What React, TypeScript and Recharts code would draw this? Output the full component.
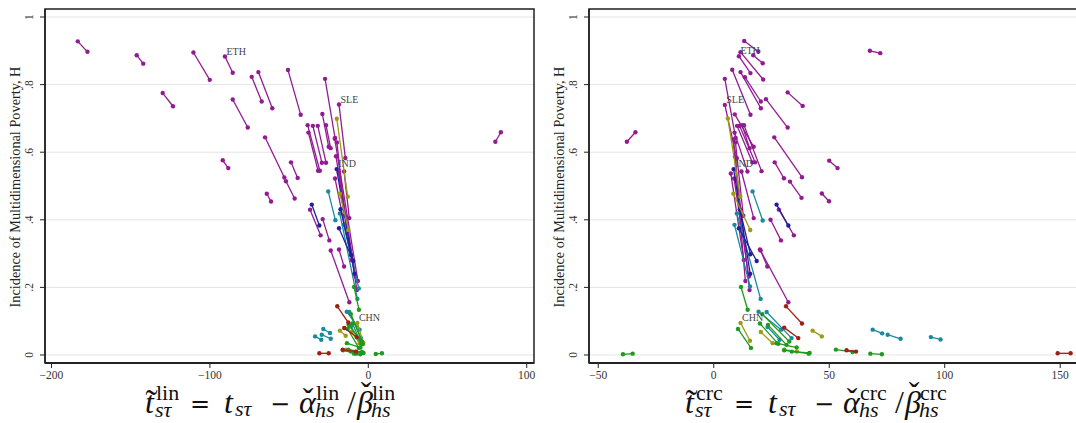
import React from "react";
import {
  CartesianGrid,
  ReferenceArea,
  Scatter,
  ScatterChart,
  XAxis,
  YAxis,
} from "recharts";

// each segment: [x1, y1, x2, y2] (first survey -> second survey)
type Seg = [number, number, number, number];
type Lbl = { x: number; y: number; name: string };

const purpleLin: Seg[] = [
  [-183.4, 0.928, -177.3, 0.897], [-146.2, 0.887, -142.1, 0.862], [-110.4, 0.895, -100.1, 0.814],
  [-90.5, 0.883, -85.6, 0.835], [-129.8, 0.775, -123.3, 0.736], [-73.6, 0.823, -67.3, 0.75],
  [-69.4, 0.837, -60.6, 0.73], [-50.7, 0.843, -42.7, 0.711], [-85.6, 0.756, -76.1, 0.673],
  [-91.9, 0.576, -88.4, 0.553], [-65.2, 0.644, -53.0, 0.525], [-48.8, 0.57, -44.6, 0.524],
  [-52.0, 0.514, -46.5, 0.463], [-64.1, 0.477, -61.4, 0.454], [80.2, 0.631, 83.7, 0.659],
  [-27.3, 0.817, -21.0, 0.642], [-18.5, 0.741, -14.5, 0.583], [-37.8, 0.658, -31.7, 0.545],
  [-38.3, 0.68, -30.6, 0.545], [-35.0, 0.678, -29.3, 0.569], [-31.9, 0.678, -26.7, 0.569],
  [-29.0, 0.713, -25.0, 0.616], [-26.7, 0.68, -23.8, 0.612], [-36.8, 0.43, -30.1, 0.354],
  [-28.8, 0.402, -24.6, 0.339], [-23.7, 0.309, -12.0, 0.156], [-18.5, 0.312, -15.3, 0.262],
  [-21.2, 0.64, -6.6, 0.219], [-19.8, 0.629, -14.8, 0.412], [-20.4, 0.588, -7.2, 0.192],
  [-21.0, 0.522, -10.5, 0.281], [-18.6, 0.539, -8.0, 0.232], [-15.3, 0.543, -12.0, 0.405],
];
const purpleCrc: Seg[] = [
  [13.2, 0.929, 19.3, 0.898], [17.1, 0.887, 21.2, 0.863], [11.6, 0.896, 21.4, 0.815],
  [10.9, 0.884, 15.9, 0.834], [32.0, 0.777, 38.5, 0.737], [13.5, 0.822, 20.4, 0.75],
  [11.6, 0.837, 20.4, 0.73], [8.0, 0.844, 15.9, 0.711], [22.6, 0.757, 32.0, 0.673],
  [50.0, 0.575, 53.6, 0.553], [26.2, 0.644, 38.2, 0.526], [26.4, 0.57, 30.4, 0.523],
  [33.0, 0.513, 38.0, 0.465], [46.8, 0.478, 49.9, 0.455], [-37.6, 0.631, -33.9, 0.659],
  [4.8, 0.817, 9.5, 0.642], [4.8, 0.74, 10.0, 0.582], [9.0, 0.658, 14.6, 0.543],
  [13.1, 0.68, 20.7, 0.544], [10.1, 0.678, 16.7, 0.57], [11.2, 0.678, 17.9, 0.57],
  [9.1, 0.712, 17.3, 0.616], [12.3, 0.68, 15.5, 0.612], [28.2, 0.43, 34.7, 0.354],
  [24.6, 0.4, 29.1, 0.339], [20.0, 0.312, 32.3, 0.156], [20.3, 0.309, 23.2, 0.262],
  [8.4, 0.638, 13.7, 0.219], [9.4, 0.629, 12.8, 0.412], [9.2, 0.587, 15.5, 0.192],
  [7.4, 0.537, 13.0, 0.281], [8.8, 0.522, 15.2, 0.232], [12.0, 0.543, 17.3, 0.405],
  [67.6, 0.9, 72.1, 0.893],
];

const blueLin: Seg[] = [
  [-35.7, 0.445, -30.9, 0.383], [-20.0, 0.55, -8.7, 0.24], [-17.5, 0.431, -10.9, 0.296], [-18.5, 0.375, -9.5, 0.278],
];
const blueCrc: Seg[] = [
  [27.2, 0.445, 32.3, 0.383], [8.6, 0.55, 15.8, 0.24], [11.3, 0.431, 15.9, 0.298], [10.9, 0.375, 18.6, 0.278],
];

const tealLin: Seg[] = [
  [-25.3, 0.484, -20.8, 0.399], [-18.0, 0.419, -6.9, 0.166], [-15.5, 0.385, -6.0, 0.197],
  [-28.4, 0.077, -24.2, 0.065], [-29.4, 0.06, -23.7, 0.048], [-33.6, 0.055, -29.7, 0.045],
  [-13.6, 0.128, -5.5, 0.075], [-12.0, 0.127, -4.6, 0.05], [-11.0, 0.085, -5.8, 0.045],
];
const tealCrc: Seg[] = [
  [16.8, 0.484, 21.2, 0.398], [10.0, 0.419, 20.3, 0.166], [9.0, 0.385, 15.7, 0.203],
  [68.8, 0.075, 72.9, 0.064], [75.3, 0.06, 80.9, 0.048], [94.0, 0.053, 98.2, 0.046],
  [19.4, 0.128, 29.2, 0.075], [22.9, 0.127, 33.7, 0.05], [23.3, 0.083, 28.5, 0.045],
];

const oliveLin: Seg[] = [
  [-19.9, 0.699, -13.0, 0.468], [-17.9, 0.477, -12.5, 0.37], [-17.9, 0.072, -14.3, 0.057],
  [-6.9, 0.095, -3.2, 0.036], [-10.5, 0.068, -5.5, 0.035], [-14.0, 0.016, -8.0, 0.01],
];
const oliveCrc: Seg[] = [
  [6.1, 0.7, 11.5, 0.468], [8.5, 0.477, 15.8, 0.37], [42.8, 0.072, 46.8, 0.055],
  [11.6, 0.095, 15.7, 0.042], [20.4, 0.068, 25.5, 0.035], [30.5, 0.016, 36.0, 0.01],
];

const greenLin: Seg[] = [
  [-9.0, 0.201, -5.9, 0.134], [-12.4, 0.089, -3.5, 0.032], [-11.0, 0.121, -4.0, 0.04],
  [-13.0, 0.077, -6.0, 0.021], [-10.0, 0.093, -4.5, 0.033], [-13.5, 0.035, -5.0, 0.022],
  [-16.0, 0.014, -7.5, 0.004], [-12.5, 0.016, -4.0, 0.009], [-9.0, 0.004, -5.0, 0.002],
  [4.7, 0.003, 8.6, 0.005], [-11.0, 0.01, -3.0, 0.006],
];
const greenCrc: Seg[] = [
  [11.8, 0.201, 14.7, 0.134], [23.5, 0.089, 31.5, 0.03], [21.0, 0.121, 32.7, 0.04],
  [10.5, 0.077, 16.1, 0.021], [20.0, 0.093, 27.9, 0.033], [27.2, 0.035, 35.9, 0.022],
  [30.5, 0.014, 41.1, 0.004], [52.9, 0.016, 60.1, 0.009], [67.8, 0.004, 72.8, 0.002],
  [-39.3, 0.002, -35.1, 0.004], [33.8, 0.01, 41.5, 0.006],
];

const redLin: Seg[] = [
  [-19.6, 0.144, -12.6, 0.096], [-15.2, 0.08, -7.3, 0.053], [-30.9, 0.005, -25.0, 0.005], [-16.2, 0.016, -7.8, 0.01],
];
const redCrc: Seg[] = [
  [31.3, 0.144, 38.2, 0.093], [30.5, 0.081, 36.6, 0.05], [148.9, 0.005, 154.5, 0.005], [57.5, 0.014, 61.6, 0.01],
];

const linLabels: Lbl[] = [
  { x: -90.5, y: 0.883, name: "ETH" },
  { x: -18.5, y: 0.741, name: "SLE" },
  { x: -20.0, y: 0.55, name: "IND" },
  { x: -6.9, y: 0.095, name: "CHN" },
];
const crcLabels: Lbl[] = [
  { x: 10.9, y: 0.884, name: "ETH" },
  { x: 4.8, y: 0.74, name: "SLE" },
  { x: 8.6, y: 0.55, name: "IND" },
  { x: 11.6, y: 0.095, name: "CHN" },
];

const linTicks = [-200, -100, 0, 100];
const crcTicks = [-50, 0, 50, 100, 150];
const hTicks = [0, 0.2, 0.4, 0.6, 0.8, 1];

const COLORS = {
  purple: "#921b92",
  blue: "#221f9c",
  teal: "#188a9e",
  olive: "#9c9b14",
  green: "#1e9a1e",
  red: "#9c2016",
};

const SERIF = '"Liberation Serif", "Times New Roman", serif';
const Y_DOMAIN: [number, number] = [-0.0237, 1.0237];

const fmtH = (v: number) => (v === 0 ? "0" : v === 1 ? "1" : String(v).replace(/^0/, ""));
const fmtX = (v: number) => (v < 0 ? "\u2212" + Math.abs(v) : String(v));

const YTick = (props: any) => {
  const { x, y, payload } = props;
  const bx = x - 7;
  return (
    <text x={bx} y={y} transform={`rotate(-90 ${bx} ${y})`} textAnchor="middle" fontSize={11.5} fill="#333" fontFamily={SERIF}>
      {fmtH(payload.value)}
    </text>
  );
};

const dotShape = (color: string) => (p: any) => <circle cx={p.cx} cy={p.cy} r={2.2} fill={color} />;

const labelShape = (p: any) => (
  <text x={p.cx + 1.5} y={p.cy - 2} fontSize={10} fill="#444" fontFamily={SERIF}>
    {p.payload?.name}
  </text>
);

type Group = { color: string; segs: Seg[] };

function Panel({
  groups,
  ticks,
  domain,
  labels,
  width,
  yAxisWidth,
  marginRight,
}: {
  groups: Group[];
  ticks: number[];
  domain: [number, number];
  labels: Lbl[];
  width: number;
  yAxisWidth: number;
  marginRight: number;
}) {
  return (
    <ScatterChart width={width} height={423} margin={{ top: 9, right: marginRight, bottom: 30, left: 0 }}>
      <CartesianGrid vertical={false} stroke="#e4e4e4" />
      <XAxis
        type="number"
        dataKey="x"
        domain={domain}
        ticks={ticks}
        allowDataOverflow
        height={30}
        tickSize={5}
        tickMargin={3}
        tickFormatter={fmtX}
        axisLine={{ stroke: "#222", strokeWidth: 2 }}
        tickLine={{ stroke: "#222" }}
        tick={{ fontSize: 11.5, fill: "#333", fontFamily: SERIF }}
      />
      <YAxis
        type="number"
        dataKey="y"
        domain={Y_DOMAIN}
        ticks={hTicks}
        allowDataOverflow
        width={yAxisWidth}
        tickSize={5}
        tickMargin={0}
        axisLine={{ stroke: "#222", strokeWidth: 1.5 }}
        tickLine={{ stroke: "#222" }}
        tick={<YTick />}
      />
      <ReferenceArea
        x1={domain[0]}
        x2={domain[1]}
        y1={Y_DOMAIN[0]}
        y2={Y_DOMAIN[1]}
        fill="none"
        fillOpacity={0}
        stroke="#222"
        strokeWidth={1.5}
      />
      {groups.flatMap((g, gi) =>
        g.segs.map((s, i) => (
          <Scatter
            key={`${gi}-${i}`}
            data={[
              { x: s[0], y: s[1] },
              { x: s[2], y: s[3] },
            ]}
            line={{ stroke: g.color, strokeWidth: 1.3 }}
            lineType="joint"
            fill={g.color}
            shape={dotShape(g.color)}
            isAnimationActive={false}
            legendType="none"
          />
        ))
      )}
      <Scatter data={labels} shape={labelShape} isAnimationActive={false} legendType="none" />
    </ScatterChart>
  );
}

// axis title written as a formula, pieces placed by hand
function Formula({ x0, sup }: { x0: number; sup: string }) {
  const d = sup === "crc" ? 4 : 0;
  const base = 413;
  const supY = 400;
  const subY = 417;
  const main = { fontSize: 32, fontFamily: SERIF, fill: "#111" };
  const scr = { fontSize: 22, fontFamily: SERIF, fill: "#111" };
  const op = { fontSize: 24, fontFamily: '"DejaVu Serif", serif', fill: "#111" };
  const it = { fontStyle: "italic" as const };
  const pieces: { x: number; y: number; t: string; s: any; i?: boolean; a?: "middle" }[] = [
    { x: 0, y: base, t: "t", s: main, i: true },
    { x: 6.5, y: base + 2, t: "\u02DC", s: { ...main, fontSize: 36 }, a: "middle" },
    { x: 11, y: supY, t: sup, s: scr },
    { x: 10, y: subY, t: "s\u03C4", s: scr, i: true },
    { x: 45 + d, y: base - 1, t: "=", s: op },
    { x: 79 + d, y: base, t: "t", s: main, i: true },
    { x: 90 + d, y: subY - 1, t: "s\u03C4", s: scr, i: true },
    { x: 125 + d, y: base - 1, t: "\u2212", s: op },
    { x: 154 + d, y: base, t: "\u03B1", s: main, i: true },
    { x: 163 + d, y: base - 3, t: "\u02C7", s: main, a: "middle" },
    { x: 171 + d, y: supY, t: sup, s: scr },
    { x: 170 + d, y: subY, t: "hs", s: scr, i: true },
    { x: 202 + 2 * d, y: base, t: "/", s: main },
    { x: 212 + 2 * d, y: base, t: "\u03B2", s: main, i: true },
    { x: 221 + 2 * d, y: base - 9, t: "\u02C7", s: main, a: "middle" },
    { x: 227 + 2 * d, y: supY, t: sup, s: scr },
    { x: 226 + 2 * d, y: subY, t: "hs", s: scr, i: true },
  ];
  return (
    <g>
      {pieces.map((p, k) => (
        <text key={k} x={x0 + p.x} y={p.y} textAnchor={p.a ?? "start"} {...p.s} {...(p.i ? it : {})}>
          {p.t}
        </text>
      ))}
    </g>
  );
}

const TITLE = "Incidence of Multidimensional Poverty, H";

export default function App() {
  const linGroups: Group[] = [
    { color: COLORS.purple, segs: purpleLin },
    { color: COLORS.teal, segs: tealLin },
    { color: COLORS.blue, segs: blueLin },
    { color: COLORS.olive, segs: oliveLin },
    { color: COLORS.green, segs: greenLin },
    { color: COLORS.red, segs: redLin },
  ];
  const crcGroups: Group[] = [
    { color: COLORS.purple, segs: purpleCrc },
    { color: COLORS.teal, segs: tealCrc },
    { color: COLORS.blue, segs: blueCrc },
    { color: COLORS.olive, segs: oliveCrc },
    { color: COLORS.green, segs: greenCrc },
    { color: COLORS.red, segs: redCrc },
  ];
  return (
    <div style={{ position: "fixed", top: 0, left: 0, width: 1076, height: 423, overflow: "hidden", background: "#fff" }}>
      <div style={{ position: "absolute", left: 0, top: 0 }}>
        <Panel groups={linGroups} ticks={linTicks} domain={[-204.1, 104.6]} labels={linLabels} width={545} yAxisWidth={45} marginRight={11} />
      </div>
      <div style={{ position: "absolute", left: 540, top: 0 }}>
        <Panel groups={crcGroups} ticks={crcTicks} domain={[-54.0, 157.7]} labels={crcLabels} width={540} yAxisWidth={49} marginRight={2} />
      </div>
      <svg width={1076} height={423} style={{ position: "absolute", left: 0, top: 0, pointerEvents: "none" }}>
        <text x={20} y={187} transform="rotate(-90 20 187)" textAnchor="middle" fontSize={14.3} fill="#222" fontFamily={SERIF}>
          {TITLE}
        </text>
        <text x={564} y={187} transform="rotate(-90 564 187)" textAnchor="middle" fontSize={14.3} fill="#222" fontFamily={SERIF}>
          {TITLE}
        </text>
        <Formula x0={145} sup="lin" />
        <Formula x0={685} sup="crc" />
      </svg>
    </div>
  );
}
